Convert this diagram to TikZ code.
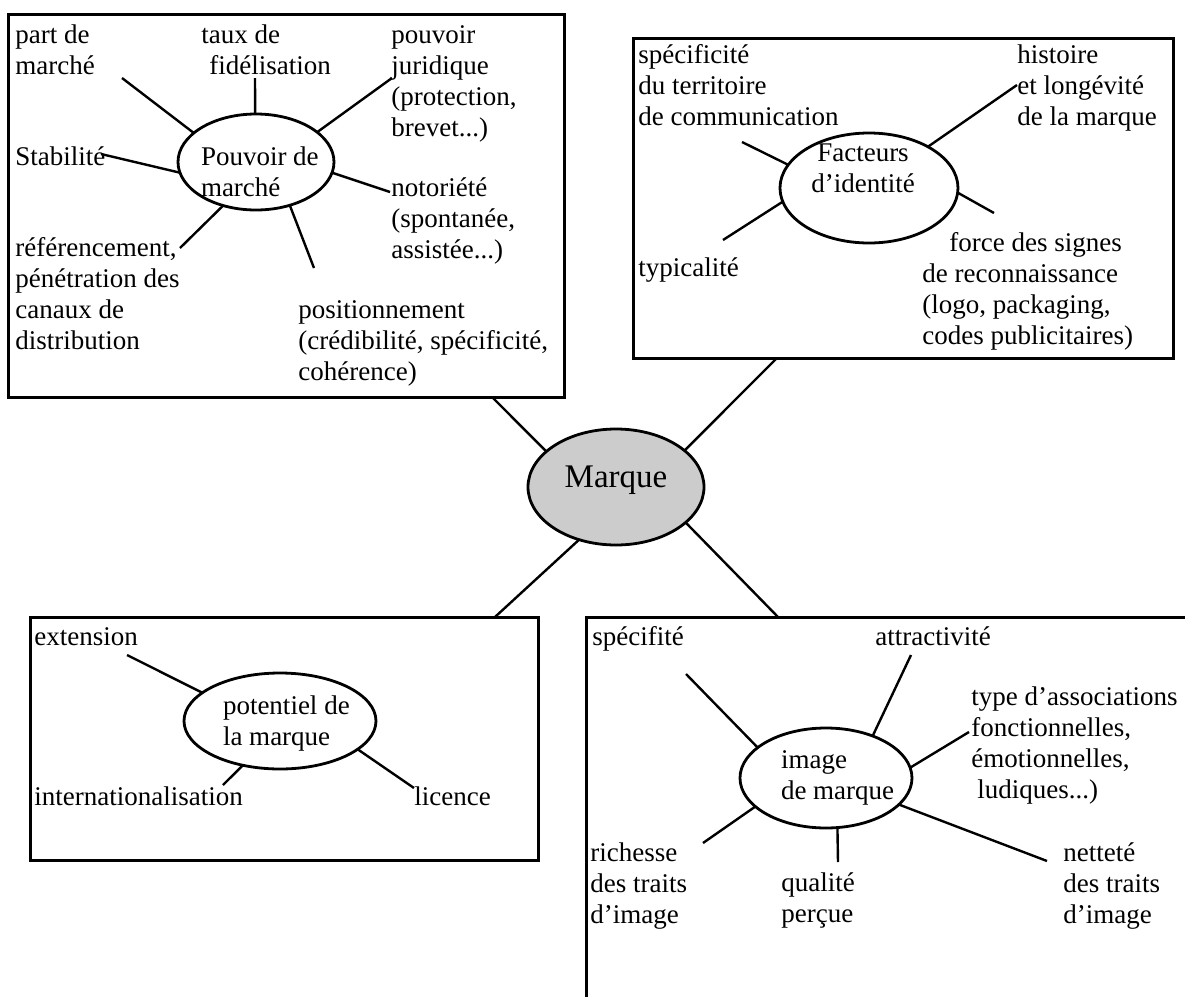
\documentclass[tikz,border=0pt]{standalone}
\usepackage{fontspec}
\setmainfont{Liberation Serif}
\usetikzlibrary{shapes.geometric}
\newcommand\lblfont{\fontsize{13.5pt}{15.5pt}\selectfont}
\newcommand\bigfont{\fontsize{16.5pt}{19pt}\selectfont}
\newcommand\mlines[2][@{}l@{}]{\begin{tabular}[t]{#1}#2\end{tabular}}
\begin{document}
\begin{tikzpicture}[x=0.5pt,y=-0.5pt,
  frame/.style={line width=1.5pt},
  bubble/.style={ellipse, draw, line width=1.4pt, inner sep=0pt, outer sep=0pt, font=\lblfont},
  spoke/.style={line width=1.2pt},
  lbl/.style={inner sep=0pt, anchor=base west, font=\lblfont}]
\useasboundingbox (0,0) rectangle (1185,997);

% frames of the four groups
\draw[frame] (8,14) rectangle (564,397);
\draw[frame] (633,38) rectangle (1173,358);
\draw[frame] (30,617) rectangle (538,860);
\draw[frame] (1185,617) -- (586,617) -- (586,997);

% central brand node
\node[bubble, fill=black!20, minimum width=88pt, minimum height=58pt,
      text height=5pt, text depth=5pt, font=\bigfont] (mq) at (616,487) {\makebox[0pt]{Marque}};

\coordinate (tlfoot) at (492,397);
\coordinate (trfoot) at (777,358);
\coordinate (blhead) at (495,617);
\coordinate (brhead) at (778,617);
\draw[spoke] (mq.153) -- (tlfoot);
\draw[spoke] (mq.28) -- (trfoot);
\draw[spoke] (mq.235) -- (blhead);
\draw[spoke] (mq.333) -- (brhead);

% ---- market power ----
\node[bubble, minimum width=78pt, minimum height=48pt, text height=8pt, text depth=5pt] (pm) at (256,162)
  {\makebox[0pt][l]{\hspace*{-27.5pt}\mlines{Pouvoir de\\marché}}};
\node[lbl] (pdm) at (15,43) {\mlines{part de\\marché}};
\node[lbl] (tdf) at (201,43) {\mlines{taux de\\\hspace*{4pt}fidélisation}};
\node[lbl] (pju) at (391,43) {\mlines{pouvoir\\juridique\\(protection,\\brevet...)}};
\node[lbl] (sta) at (15,165) {Stabilité};
\node[lbl] (not) at (391,196) {\mlines{notoriété\\(spontanée,\\assistée...)}};
\node[lbl] (ref) at (15,256) {\mlines{référencement,\\pénétration des\\canaux de\\distribution}};
\node[lbl] (pos) at (298,318) {\mlines{positionnement\\(crédibilité, spécificité,\\cohérence)}};
\coordinate (pmA) at (122,78);
\coordinate (pmB) at (255,78);
\coordinate (pmC) at (392,78);
\coordinate (pmD) at (101,154);
\coordinate (pmE) at (390,192);
\coordinate (pmF) at (180,248);
\coordinate (pmG) at (314,268);
\draw[spoke] (pm.155) -- (pmA);
\draw[spoke] (pm.91) -- (pmB);
\draw[spoke] (pm.26) -- (pmC);
\draw[spoke] (pm.188) -- (pmD);
\draw[spoke] (pm.352) -- (pmE);
\draw[spoke] (pm.233) -- (pmF);
\draw[spoke] (pm.308) -- (pmG);

% ---- identity factors ----
\node[bubble, minimum width=89pt, minimum height=55pt, text height=1pt, text depth=28pt] (fi) at (869,188)
  {\makebox[0pt]{\hspace*{-6pt}\mlines[@{}c@{}]{Facteurs\\d’identité}}};
\node[lbl] (spe) at (638,63) {\mlines{spécificité\\du territoire\\de communication}};
\node[lbl] (his) at (1017,63) {\mlines{histoire\\et longévité\\de la marque}};
\node[lbl] (typ) at (638,276) {typicalité};
\node[lbl] (frc) at (922,251) {\mlines{\hspace*{13.5pt}force des signes\\de reconnaissance\\(logo, packaging,\\codes publicitaires)}};
\coordinate (fiA) at (742,142);
\coordinate (fiB) at (1017,85);
\coordinate (fiC) at (723,240);
\coordinate (fiD) at (994,213);
\draw[spoke] (fi.164) -- (fiA);
\draw[spoke] (fi.35) -- (fiB);
\draw[spoke] (fi.189) -- (fiC);
\draw[spoke] (fi.357) -- (fiD);

% ---- brand potential ----
\node[bubble, minimum width=96pt, minimum height=48pt, text height=3pt, text depth=10pt] (pt) at (280,721)
  {\makebox[0pt][l]{\hspace*{-28.5pt}\mlines{potentiel de\\la marque}}};
\node[lbl] (ext) at (34,645) {extension};
\node[lbl] (int) at (34,805) {internationalisation};
\node[lbl] (lic) at (414,805) {licence};
\coordinate (ptA) at (127,655);
\coordinate (ptB) at (223,785);
\coordinate (ptC) at (414,788);
\draw[spoke] (pt.160) -- (ptA);
\draw[spoke] (pt.230) -- (ptB);
\draw[spoke] (pt.340) -- (ptC);

% ---- brand image ----
\node[bubble, minimum width=86pt, minimum height=50pt, text height=2pt, text depth=12pt] (im) at (826,778)
  {\makebox[0pt][l]{\hspace*{-22.5pt}\mlines{image\\de marque}}};
\node[lbl] (spf) at (592,645) {spécifité};
\node[lbl] (att) at (875,645) {attractivité};
\node[lbl] (tda) at (971,705) {\mlines{type d’associations\\fonctionnelles,\\émotionnelles,\\\hspace*{3pt}ludiques...)}};
\node[lbl] (ric) at (590,861) {\mlines{richesse\\des traits\\d’image}};
\node[lbl] (qua) at (781,891) {\mlines{qualité\\perçue}};
\node[lbl] (net) at (1063,861) {\mlines{netteté\\des traits\\d’image}};
\coordinate (imA) at (686,674);
\coordinate (imB) at (911,655);
\coordinate (imC) at (969,732);
\coordinate (imD) at (703,843);
\coordinate (imE) at (838,862);
\coordinate (imF) at (1047,861);
\draw[spoke] (im.156) -- (imA);
\draw[spoke] (im.42) -- (imB);
\draw[spoke] (im.7) -- (imC);
\draw[spoke] (im.202) -- (imD);
\draw[spoke] (im.283) -- (imE);
\draw[spoke] (im.340) -- (imF);
\end{tikzpicture}
\end{document}
